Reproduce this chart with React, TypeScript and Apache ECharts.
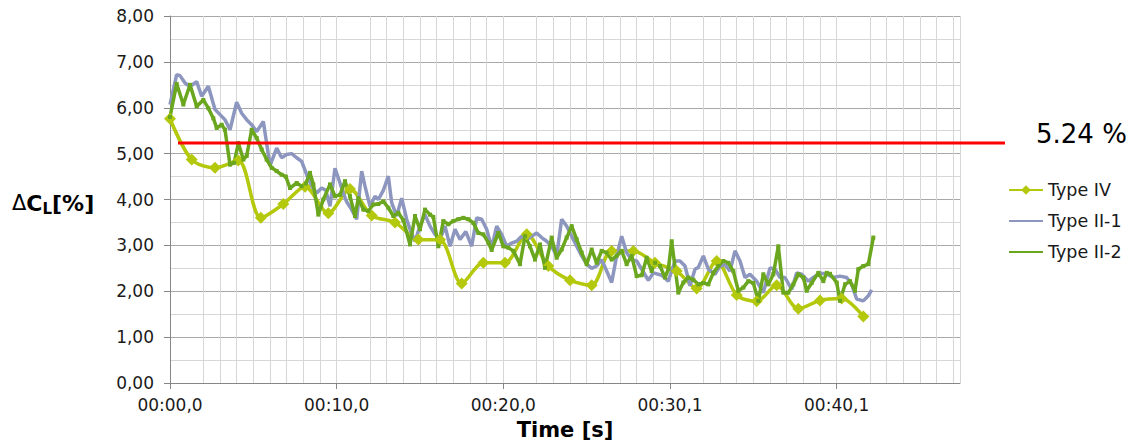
import React, { useEffect, useRef } from "react";
import * as echarts from "echarts";

// ---------- data ----------
const X_TICK_LABELS = ["00:00,0", "00:10,0", "00:20,0", "00:30,1", "00:40,1"];
const X_TICK_VALUES = [0, 10, 20, 30, 40];
const X_MAX = 47.4;
const THRESHOLD = 5.24;
const THRESHOLD_LABEL = "5.24 %";

const TIME_IV = [0.0, 1.3, 2.7, 4.1, 5.45, 6.8, 8.1, 9.5, 10.8, 12.1, 13.5, 14.9, 16.2, 17.5, 18.8, 20.1, 21.4, 22.7, 24.0, 25.3, 26.5, 27.8, 29.1, 30.4, 31.6, 32.8, 34.0, 35.2, 36.4, 37.7, 39.0, 40.3, 41.6];
const TYPE_IV = [5.76, 4.87, 4.69, 4.85, 3.6, 3.9, 4.28, 3.7, 4.23, 3.65, 3.5, 3.13, 3.12, 2.17, 2.62, 2.62, 3.24, 2.55, 2.24, 2.13, 2.88, 2.88, 2.62, 2.44, 2.06, 2.66, 1.92, 1.78, 2.13, 1.62, 1.8, 1.84, 1.45];

const TIME_II1 = [0.0, 0.4, 0.6, 0.9, 1.2, 1.6, 1.9, 2.3, 2.7, 3.0, 3.3, 3.6, 4.0, 4.3, 4.6, 4.9, 5.2, 5.6, 6.0, 6.4, 6.7, 7.0, 7.3, 7.6, 7.9, 8.2, 8.5, 8.8, 9.1, 9.35, 9.6, 9.9, 10.2, 10.4, 10.6, 10.9, 11.2, 11.5, 11.7, 12.0, 12.3, 12.5, 12.8, 13.1, 13.3, 13.6, 13.9, 14.2, 14.45, 14.7, 15.0, 15.3, 15.6, 15.9, 16.2, 16.5, 16.8, 17.1, 17.4, 17.75, 18.1, 18.4, 18.7, 19.0, 19.3, 19.6, 19.9, 20.2, 20.5, 20.8, 21.1, 21.4, 21.7, 22.0, 22.3, 22.6, 22.9, 23.2, 23.5, 23.8, 24.1, 24.4, 24.7, 25.0, 25.3, 25.6, 25.9, 26.2, 26.5, 26.8, 27.1, 27.4, 27.7, 28.0, 28.3, 28.7, 29.0, 29.5, 29.9, 30.3, 30.6, 30.9, 31.2, 31.5, 31.7, 32.0, 32.3, 32.7, 33.0, 33.3, 33.6, 33.9, 34.2, 34.5, 34.8, 35.2, 35.6, 36.0, 36.3, 36.6, 36.9, 37.3, 37.6, 37.9, 38.3, 38.6, 39.0, 39.4, 39.8, 40.2, 40.6, 40.9, 41.2, 41.6, 41.9, 42.1];
const TYPE_II1 = [6.07, 6.72, 6.7, 6.54, 6.46, 6.57, 6.25, 6.47, 5.96, 5.85, 5.74, 5.52, 6.12, 5.88, 5.74, 5.63, 5.48, 5.7, 4.74, 5.12, 4.91, 4.98, 5.0, 4.91, 4.83, 4.54, 4.29, 4.14, 4.25, 4.2, 3.85, 4.68, 4.36, 4.14, 3.95, 3.78, 3.57, 4.62, 4.29, 3.85, 4.07, 4.0, 4.2, 4.51, 3.93, 3.64, 4.03, 3.57, 3.3, 3.09, 3.42, 3.67, 3.42, 3.24, 3.13, 3.42, 2.98, 3.35, 3.13, 3.3, 2.98, 3.6, 3.57, 3.35, 2.95, 3.42, 3.24, 2.98, 3.05, 3.09, 3.2, 3.13, 3.2, 3.27, 3.17, 3.09, 2.98, 2.77, 3.57, 3.42, 3.2, 2.98, 2.77, 2.59, 2.5, 2.55, 2.69, 2.44, 2.19, 2.77, 3.2, 2.84, 2.69, 2.66, 2.48, 2.24, 2.4, 2.35, 2.22, 2.66, 2.66, 2.55, 2.12, 2.48, 2.52, 2.77, 2.48, 2.37, 2.55, 2.58, 2.44, 2.88, 2.66, 2.3, 2.37, 2.22, 1.97, 2.51, 2.48, 2.3, 2.3, 2.04, 2.4, 2.37, 2.22, 2.3, 2.4, 2.37, 2.3, 2.33, 2.3, 2.15, 1.83, 1.79, 1.9, 2.03];

const TIME_II2 = [0.0, 0.4, 0.8, 1.2, 1.6, 2.0, 2.3, 2.6, 2.8, 3.1, 3.3, 3.6, 3.85, 4.1, 4.4, 4.6, 4.9, 5.2, 5.5, 5.8, 6.1, 6.4, 6.7, 6.95, 7.2, 7.6, 7.9, 8.15, 8.4, 8.6, 8.9, 9.2, 9.6, 9.9, 10.2, 10.5, 10.8, 11.1, 11.3, 11.6, 11.9, 12.2, 12.5, 12.8, 13.1, 13.4, 13.7, 14.0, 14.4, 14.7, 15.0, 15.3, 15.6, 15.8, 16.1, 16.4, 16.7, 17.0, 17.3, 17.6, 17.9, 18.2, 18.5, 18.8, 19.1, 19.3, 19.7, 20.0, 20.3, 20.6, 21.0, 21.3, 21.6, 21.9, 22.2, 22.5, 22.9, 23.2, 23.5, 23.8, 24.1, 24.4, 24.7, 25.0, 25.3, 25.6, 25.9, 26.2, 26.5, 26.8, 27.1, 27.4, 27.7, 28.0, 28.3, 28.6, 28.9, 29.1, 29.4, 29.7, 29.9, 30.1, 30.5, 30.8, 31.1, 31.4, 31.7, 32.0, 32.3, 32.6, 32.9, 33.2, 33.5, 33.8, 34.1, 34.4, 34.7, 35.0, 35.3, 35.6, 35.9, 36.2, 36.5, 36.8, 37.1, 37.4, 37.7, 38.0, 38.2, 38.5, 38.9, 39.2, 39.4, 39.6, 40.0, 40.2, 40.5, 40.8, 41.1, 41.3, 41.6, 41.9, 42.2];
const TYPE_II2 = [5.8, 6.52, 6.07, 6.5, 6.03, 6.17, 5.99, 5.77, 5.56, 5.63, 5.52, 4.76, 4.8, 5.23, 4.87, 4.95, 5.52, 5.34, 5.09, 4.87, 4.69, 4.62, 4.54, 4.5, 4.25, 4.36, 4.29, 4.35, 4.58, 4.33, 3.67, 4.0, 4.33, 4.07, 4.1, 4.4, 4.07, 3.64, 4.03, 3.78, 3.75, 3.89, 3.9, 3.96, 3.82, 3.64, 3.71, 3.55, 3.02, 3.64, 3.35, 3.78, 3.67, 3.62, 2.98, 3.53, 3.46, 3.53, 3.57, 3.6, 3.57, 3.49, 3.27, 3.24, 3.06, 2.9, 3.27, 2.98, 2.95, 2.88, 2.59, 3.2, 2.98, 2.69, 3.02, 2.51, 3.17, 2.73, 2.91, 3.17, 3.42, 3.13, 2.84, 2.59, 2.91, 2.62, 2.88, 2.84, 2.69, 2.77, 2.88, 2.59, 2.77, 2.33, 2.35, 2.73, 2.44, 2.62, 2.55, 2.3, 2.48, 3.09, 1.97, 2.19, 2.3, 2.25, 2.15, 2.18, 2.15, 2.4, 2.55, 2.66, 2.62, 2.44, 2.01, 2.08, 2.22, 2.18, 1.79, 2.37, 2.15, 2.37, 2.98, 1.97, 1.97, 2.15, 2.37, 2.3, 2.01, 2.18, 2.4, 2.22, 2.4, 2.38, 2.19, 1.79, 2.15, 2.22, 2.01, 2.48, 2.55, 2.59, 3.17];

// ---------- styles ----------
const C_IV = "#b4c80c";
const C_II1 = "#8c96be";
const C_II2 = "#6aa61e";
const MAJOR = "#a8a8a8";
const MINOR = "#d6d6d6";
const AXIS = "#868686";
const FONT = "DejaVu Sans";

const pairs = (t: number[], v: number[]) => t.map((x, i) => [x, v[i]]);

export default function App() {
  const ref = useRef<HTMLDivElement>(null);
  useEffect(() => {
    if (!ref.current) return;
    const chart = echarts.init(ref.current, undefined, { renderer: "svg" });
    const minorX = ["rgba(0,0,0,0)", MINOR, MINOR, MINOR, MINOR, MINOR, MINOR, MINOR, MINOR, MINOR];
    chart.setOption({
      animation: false,
      backgroundColor: "#ffffff",
      textStyle: { fontFamily: FONT },
      grid: [
        { left: 170, top: 16, width: 790, height: 368 },
        { left: 178, top: 16, width: 827, height: 368 },
      ],
      xAxis: [
        {
          type: "value", gridIndex: 0, min: 0, max: X_MAX, interval: 10,
          axisLine: { show: true, lineStyle: { color: AXIS, width: 1 } },
          axisTick: { show: true, length: 6, customValues: X_TICK_VALUES, lineStyle: { color: AXIS } },
          axisLabel: {
            show: true, margin: 13, fontSize: 17, color: "#1a1a1a", fontFamily: FONT,
            formatter: (v: number) => {
              const i = Math.round(v / 10);
              return Math.abs(v - i * 10) < 1e-6 && X_TICK_LABELS[i] ? X_TICK_LABELS[i] : "";
            },
          },
          splitLine: { show: true, showMaxLine: false, lineStyle: { color: MAJOR, width: 1 } },
          name: "Time [s]", nameLocation: "middle", nameGap: 36,
          nameTextStyle: { fontSize: 21, fontWeight: "bold", color: "#000", fontFamily: FONT },
        },
        {
          type: "value", gridIndex: 0, min: 0, max: X_MAX, interval: 1,
          axisLine: { show: false }, axisTick: { show: false }, axisLabel: { show: false },
          splitLine: { show: true, showMinLine: false, lineStyle: { color: minorX, width: 1 } },
        },
        { type: "value", gridIndex: 1, min: 0, max: 1, show: false },
      ],
      yAxis: [
        {
          type: "value", gridIndex: 0, min: 0, max: 8, interval: 1,
          axisLine: { show: true, lineStyle: { color: AXIS, width: 1 } },
          axisTick: { show: true, length: 6, lineStyle: { color: AXIS } },
          axisLabel: {
            show: true, margin: 16, fontSize: 17, color: "#1a1a1a", fontFamily: FONT,
            formatter: (v: number) => v.toFixed(2).replace(".", ","),
          },
          splitLine: { show: true, lineStyle: { color: MAJOR, width: 1 } },
        },
        {
          type: "value", gridIndex: 0, min: 0, max: 8, interval: 0.5, position: "left",
          axisLine: { show: false }, axisTick: { show: false }, axisLabel: { show: false },
          splitLine: { show: true, lineStyle: { color: ["rgba(0,0,0,0)", MINOR], width: 1 } },
        },
        { type: "value", gridIndex: 1, min: 0, max: 8, show: false },
      ],
      legend: {
        data: [
          { name: "Type IV" },
          { name: "Type II-1", itemStyle: { opacity: 0 } },
          { name: "Type II-2", itemStyle: { opacity: 0 } },
        ],
        orient: "vertical", left: 1003, top: 176,
        itemWidth: 34, itemHeight: 12, itemGap: 13,
        textStyle: { fontSize: 17.5, color: "#1a1a1a", fontFamily: FONT },
      },
      graphic: [
        {
          type: "text", left: 12, top: 192,
          style: {
            text: "{d|Δ}{c|C}{s|L}{c|[%]}",
            rich: {
              d: { fontSize: 21, fontFamily: FONT, color: "#111", lineHeight: 24, verticalAlign: "top" },
              c: { fontSize: 22, fontWeight: "bold", fontFamily: FONT, color: "#111", lineHeight: 24, verticalAlign: "top" },
              s: { fontSize: 15, fontWeight: "bold", fontFamily: FONT, color: "#111", lineHeight: 15, verticalAlign: "bottom", padding: [6, 0, 0, 0] },
            },
          },
        },
      ],
      series: [
        {
          name: "Type IV", type: "line", xAxisIndex: 0, yAxisIndex: 0,
          data: pairs(TIME_IV, TYPE_IV), smooth: 0.3,
          symbol: "diamond", symbolSize: 12, showSymbol: true, showAllSymbol: true,
          lineStyle: { color: C_IV, width: 3.5 }, itemStyle: { color: C_IV },
        },
        {
          name: "Type II-1", type: "line", xAxisIndex: 0, yAxisIndex: 0,
          data: pairs(TIME_II1, TYPE_II1), symbol: "none",
          lineStyle: { color: C_II1, width: 3.5 }, itemStyle: { color: C_II1 },
        },
        {
          name: "Type II-2", type: "line", xAxisIndex: 0, yAxisIndex: 0,
          data: pairs(TIME_II2, TYPE_II2), symbol: "rect", symbolSize: 4,
          showSymbol: true, showAllSymbol: true,
          lineStyle: { color: C_II2, width: 3.5 }, itemStyle: { color: C_II2 },
        },
        {
          name: "limit", type: "line", xAxisIndex: 2, yAxisIndex: 2, z: 5, silent: true,
          data: [[0, THRESHOLD], [1, THRESHOLD]], symbol: "none",
          lineStyle: { color: "#ff0000", width: 3 },
          endLabel: {
            show: true, formatter: () => THRESHOLD_LABEL, distance: 31, offset: [0, -9],
            fontSize: 26, color: "#000", fontFamily: FONT,
          },
        },
      ],
    });
    return () => chart.dispose();
  }, []);
  return (
    <div
      ref={ref}
      style={{ position: "fixed", left: 0, top: 0, width: 1140, height: 445, background: "#fff" }}
    />
  );
}
